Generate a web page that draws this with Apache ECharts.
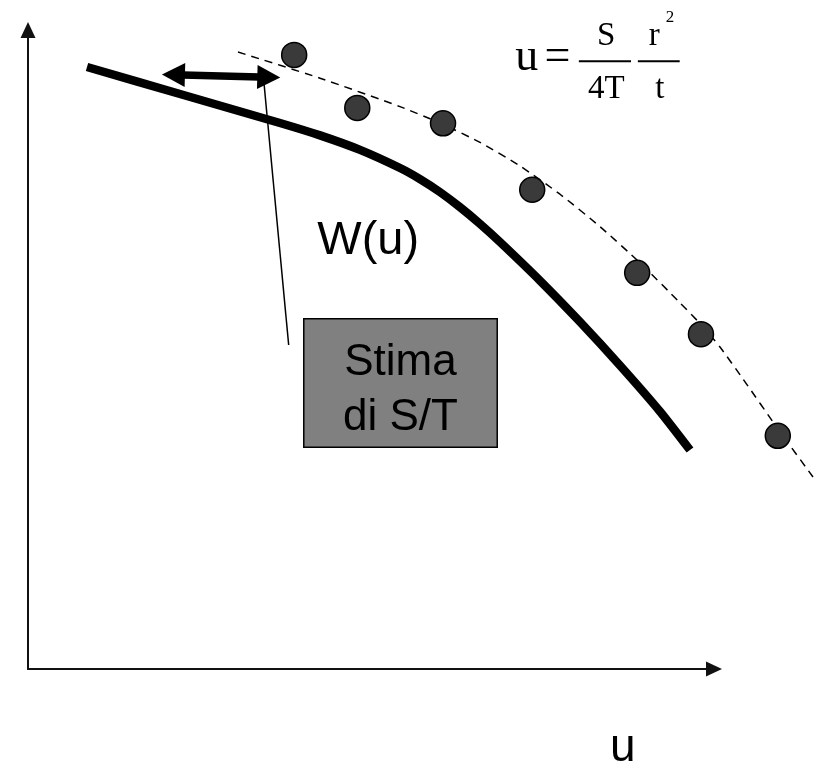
<!DOCTYPE html>
<html><head><meta charset="utf-8">
<script src="https://cdn.jsdelivr.net/npm/echarts@6/dist/echarts.min.js"></script>
<style>html,body{margin:0;padding:0;background:#fff}#c{width:814px;height:766px}</style>
</head><body><div id="c"></div>
<script>
// Theoretical (type) curve W(u)
const typeCurve = [[8.60,94.21],[22.16,89.98],[36.73,85.45],[42.57,83.51],[48.40,81.24],[54.23,78.40],[57.14,76.67],[60.06,74.63],[62.97,72.28],[65.89,69.66],[68.80,66.82],[74.64,60.77],[80.47,54.32],[86.30,47.50],[92.13,40.30],[96.50,34.27]];
// Field data trend (dashed)
const fieldCurve = [[30.61,96.56],[42.57,92.46],[54.23,88.01],[60.06,85.45],[65.89,82.41],[71.72,78.72],[77.55,74.30],[83.38,69.23],[89.21,63.57],[95.04,57.31],[97.96,54.07],[100.87,50.39],[104.23,45.38],[109.33,37.56],[114.43,30.05]];
// Observed points
const obsPoints = [[38.8,96.1],[48.0,87.8],[60.5,85.4],[73.5,75.0],[88.8,62.0],[98.1,52.4],[109.3,36.5]];
// Shift arrow and leader line
const shiftArrow = [[21.2,93.0],[35.1,92.6]];
const leader = [[34.4,91.7],[38.0,50.7]];
// Box "Stima di S/T"
const boxCorners = [[40.2,54.8],[68.4,34.7]];
const boxText = 'Stima\ndi S/T';
// Labels
const curveLabel = {text:'W(u)', pos:[49.6,67.0]};
const axisLabelU = {text:'u', pos:[86.7,-12.4]};
// Formula u = S/4T * r^2/t
const formulaTexts = ['u','=','S','4T','r','2','t'];
const formulaPos = [[72.7,95.7],[77.2,95.7],[84.3,99.0],[84.3,90.7],[91.3,99.0],[93.6,101.9],[92.1,90.7]];
const fractionBars = [[[80.3,95.1],[87.9,95.1]],[[88.9,95.1],[95.0,95.1]]];

const formulaSizes = [46,46,33,33,33,17,33];
const SERIF = '"Liberation Serif","Times New Roman",serif';
const SANS = '"Liberation Sans",Arial,sans-serif';

const chart = echarts.init(document.getElementById('c'), null, {renderer:'canvas'});
const visAxis = {
  type:'value', min:0, max:100, gridIndex:0,
  axisLabel:{show:false}, axisTick:{show:false}, splitLine:{show:false},
  axisLine:{show:true, symbol:['none','triangle'], symbolSize:[15,16], lineStyle:{color:'#111', width:2}}
};
const hidAxis = {type:'value', gridIndex:1, show:false, axisLine:{show:false}, axisTick:{show:false}, axisLabel:{show:false}, splitLine:{show:false}};
const textItems = formulaTexts.map((t,i)=>({
  value: formulaPos[i],
  label:{show:true, formatter:t, fontSize:formulaSizes[i], fontFamily:SERIF, color:'#000', position:'inside', align:'center', verticalAlign:'middle'}
}));
textItems.push({value:curveLabel.pos, label:{show:true, formatter:curveLabel.text, fontSize:47, fontFamily:SANS, color:'#000', position:'inside', align:'center', verticalAlign:'middle'}});
textItems.push({value:axisLabelU.pos, label:{show:true, formatter:axisLabelU.text, fontSize:46, fontFamily:SANS, color:'#000', position:'inside', align:'center', verticalAlign:'middle'}});

const common = {xAxisIndex:1, yAxisIndex:1, silent:true};
const option = {
  animation:false,
  backgroundColor:'#fff',
  grid:[
    {left:28, top:30, right:100, bottom:97, containLabel:false},
    {left:0, top:0, right:0, bottom:0, containLabel:false}
  ],
  xAxis:[visAxis, Object.assign({}, hidAxis, {min:-28/6.86, max:786/6.86})],
  yAxis:[visAxis, Object.assign({}, hidAxis, {min:-97/6.39, max:669/6.39})],
  series:[
    Object.assign({type:'line', data:[],
     markArea:{silent:true,
       itemStyle:{color:'#808080', borderColor:'#000', borderWidth:1.5},
       label:{show:true, position:'inside', formatter:boxText, fontSize:44, lineHeight:55, fontFamily:SANS, color:'#000', offset:[0,7]},
       data:[[{coord:boxCorners[0]},{coord:boxCorners[1]}]]}
    }, common),
    Object.assign({type:'line', data:leader, showSymbol:false, lineStyle:{color:'#000', width:1.5}, z:3}, common),
    Object.assign({type:'line', data:typeCurve, smooth:0.2, showSymbol:false, lineStyle:{color:'#000', width:8.5, cap:'butt', join:'round'}, z:4}, common),
    Object.assign({type:'line', data:fieldCurve, smooth:0.2, showSymbol:false, lineStyle:{color:'#000', width:1.5, type:[8,6]}, z:4}, common),
    Object.assign({type:'scatter', data:obsPoints, symbol:'circle', symbolSize:25, itemStyle:{color:'#3a3a3a', borderColor:'#000', borderWidth:1.5, opacity:1}, z:5}, common),
    Object.assign({type:'line', data:[], z:6,
     markLine:{silent:true, symbol:['triangle','triangle'], symbolSize:[24,23], label:{show:false},
       lineStyle:{color:'#000', width:7.5, type:'solid', opacity:1}, emphasis:{disabled:true},
       data:[[{coord:shiftArrow[0]},{coord:shiftArrow[1]}]]}
    }, common),
    ...fractionBars.map(b=>Object.assign({type:'line', data:b, showSymbol:false, lineStyle:{color:'#000', width:2}, z:6}, common)),
    Object.assign({type:'scatter', data:textItems, symbolSize:0, itemStyle:{opacity:1}, z:7}, common)
  ]
};
chart.setOption(option);
</script></body></html>
